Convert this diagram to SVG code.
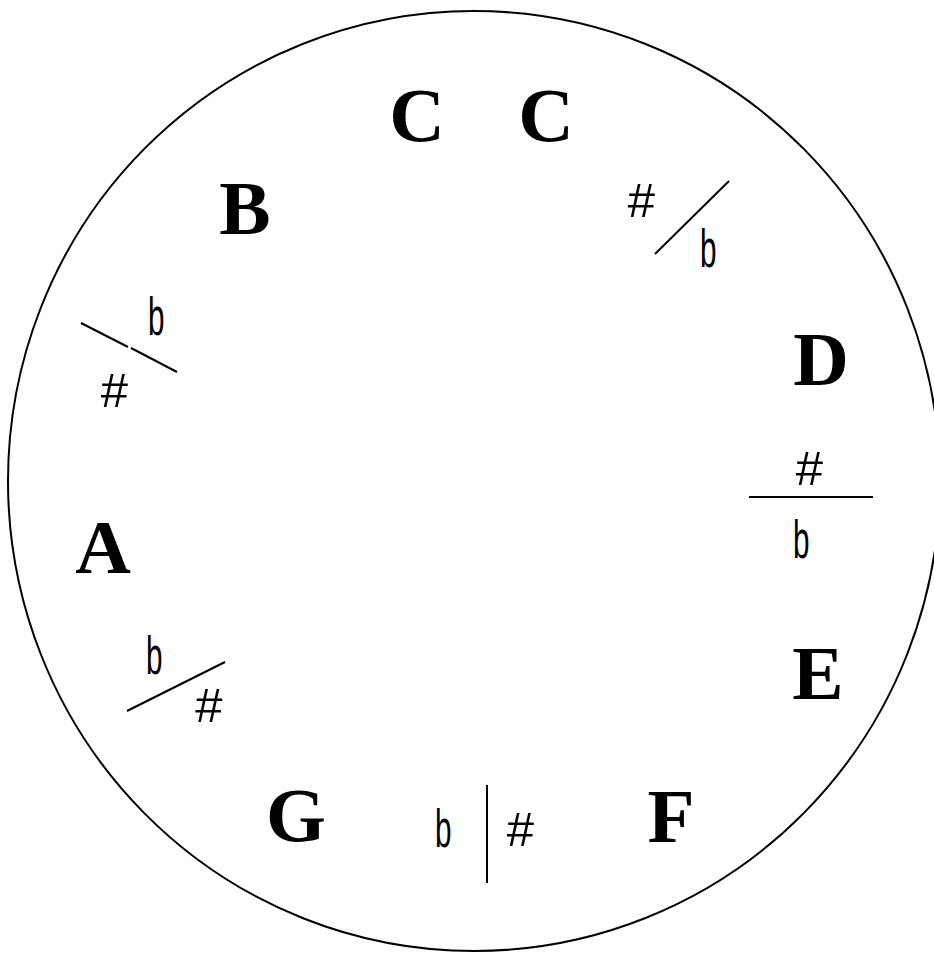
<svg xmlns="http://www.w3.org/2000/svg" width="934" height="957" viewBox="0 0 934 957">
<style>
.note{font-family:"Liberation Serif","Times New Roman",serif;font-weight:bold;font-size:77px;fill:#000;text-anchor:middle}
.sh{font-family:"Liberation Sans",Arial,sans-serif;font-size:49px;fill:#000;text-anchor:middle}
.fl{font-family:"Liberation Sans",Arial,sans-serif;font-size:54px;fill:#000}
.ln{stroke:#000;stroke-width:2;fill:none}
</style>
<rect width="934" height="957" fill="#fff"/>
<ellipse cx="474" cy="481" rx="466" ry="470" fill="none" stroke="#000" stroke-width="2"/>
<g id="notes">
<g id="C1"><text class="note" x="417" y="141">C</text></g>
<g id="C2"><text class="note" x="546" y="141">C</text></g>
<g id="B"><text class="note" x="245" y="234">B</text></g>
<g id="D"><text class="note" x="821" y="385">D</text></g>
<g id="A"><text class="note" x="103" y="573">A</text></g>
<g id="E"><text class="note" x="818" y="699">E</text></g>
<g id="F"><text class="note" x="671" y="842">F</text></g>
<g id="G"><text class="note" x="296" y="841">G</text></g>
</g>
<g id="accidentals">
<g id="AsBb"><text class="fl" transform="translate(148,335) scale(0.55,1)">b</text><text class="sh" x="114.5" y="407">#</text></g>
<g id="CsDb"><text class="sh" x="641.5" y="217">#</text><text class="fl" transform="translate(700,267) scale(0.55,1)">b</text></g>
<g id="DsEb"><text class="sh" x="809.5" y="485">#</text><text class="fl" transform="translate(793,558) scale(0.55,1)">b</text></g>
<g id="GsAb"><text class="fl" transform="translate(146,674) scale(0.55,1)">b</text><text class="sh" x="209" y="722">#</text></g>
<g id="FsGb"><text class="fl" transform="translate(435,847) scale(0.55,1)">b</text><text class="sh" x="520.5" y="846">#</text></g>
</g>
<g id="connectors">
<path class="ln" d="M81 323 L128 347 M131 348 L177 372"/>
<path class="ln" d="M655 254 L729 181"/>
<path class="ln" d="M749 497 L873 497"/>
<path class="ln" d="M127 711 L225 662"/>
<path class="ln" d="M487 785 L487 883"/>
</g>
</svg>
